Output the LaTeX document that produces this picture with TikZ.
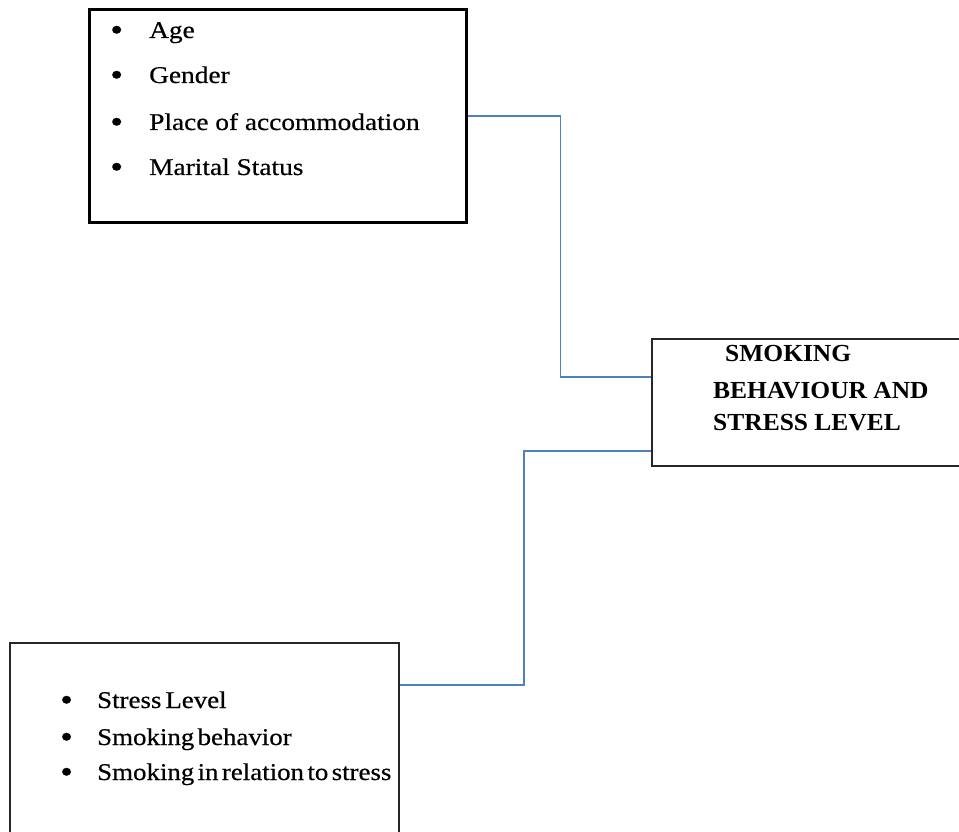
\documentclass[tikz,border=0pt]{standalone}
\usepackage{fontspec}
\setmainfont{Liberation Serif}
\newfontfamily\itemfont[FakeStretch=1.14,FakeBold=0.5]{Liberation Serif}
\newfontfamily\tightfont[FakeStretch=1.12,WordSpace=0.5,FakeBold=0.5]{Liberation Serif}
\newfontfamily\titlefont[FakeStretch=1.04]{Liberation Serif}
\definecolor{connblue}{HTML}{4F81BD}
\definecolor{boxgray}{HTML}{262626}
\newcommand{\bigbullet}{\raisebox{-2.5pt}{\scalebox{1.35}{\textbullet}}}
\tikzset{
  thickbox/.style={draw=black, line width=3pt, inner sep=0pt},
  thinbox/.style={draw=boxgray, line width=1.8pt, inner sep=0pt},
  conn/.style={draw=connblue, line width=1.6pt},
  itemA/.style={anchor=base west, inner sep=0pt, font=\itemfont\fontsize{24}{28}\selectfont},
  itemB/.style={anchor=base west, inner sep=0pt, font=\tightfont\fontsize{24}{28}\selectfont},
  titleline/.style={anchor=base west, inner sep=0pt, font=\titlefont\bfseries\fontsize{24.5}{28}\selectfont},
}
\begin{document}
\begin{tikzpicture}[x=1pt,y=-1pt]
\useasboundingbox (0,0) rectangle (959,832);
\clip (0,0) rectangle (959,832);
\fill[white] (0,0) rectangle (959,832);
% boxes
\node[thickbox, minimum width=377pt, minimum height=212pt] (b1) at (277.5,116) {};
\node[thinbox, minimum width=320pt, minimum height=127pt] (b2) at (812,402.5) {};
\node[thinbox, minimum width=389pt, minimum height=207pt] (b3) at (204.5,746.5) {};
% box 1 items
\node[itemA] (a1) at (110,38) {\makebox[39pt][l]{\bigbullet}Age};
\node[itemA] (a2) at (110,83) {\makebox[39pt][l]{\bigbullet}Gender};
\node[itemA] (a3) at (110,130) {\makebox[39pt][l]{\bigbullet}Place of accommodation};
\node[itemA] (a4) at (110,175) {\makebox[39pt][l]{\bigbullet}Marital Status};
% box 2 title
\node[titleline] (t1) at (725,361) {SMOKING};
\node[titleline] (t2) at (713,398) {BEHAVIOUR AND};
\node[titleline] (t3) at (713,430) {STRESS LEVEL};
% box 3 items
\node[itemB] (c1) at (60,708) {\makebox[37pt][l]{\bigbullet}Stress\hspace{4pt}Level};
\node[itemB] (c2) at (60,745) {\makebox[37pt][l]{\bigbullet}Smoking behavior};
\node[itemB] (c3) at (60,780) {\makebox[37pt][l]{\bigbullet}Smoking in relation to stress};
% connectors
\draw[conn] (b1.east) -- ++(93,0) |- ([yshift=25.5pt]b2.west);
\draw[conn] ([yshift=-48.5pt]b2.west) -- ++(-127,0) |- ([yshift=61.5pt]b3.east);
\end{tikzpicture}
\end{document}
